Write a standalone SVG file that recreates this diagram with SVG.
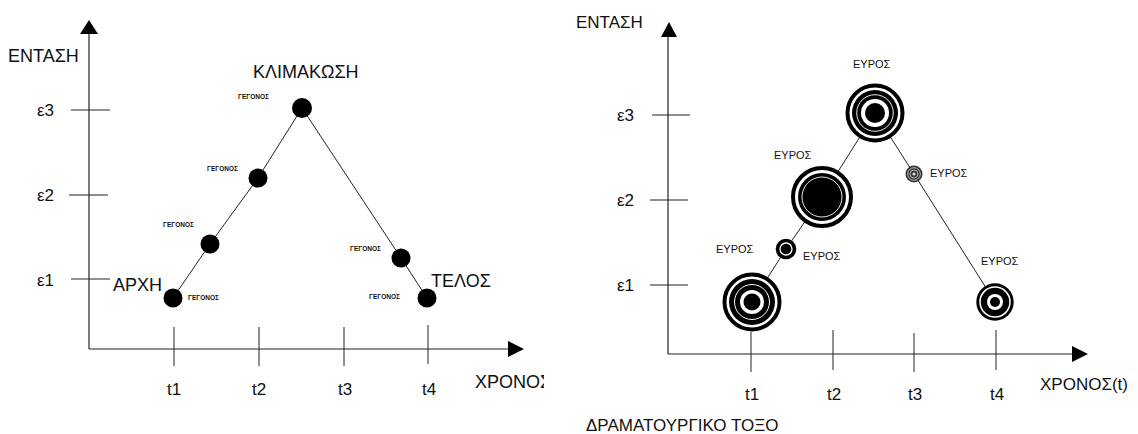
<svg xmlns="http://www.w3.org/2000/svg" width="1138" height="434" viewBox="0 0 1138 434">
  <style>
    .axis { stroke: #222; stroke-width: 1.2; fill: none; }
    .tick { stroke: #222; stroke-width: 1; }
    .link { stroke: #222; stroke-width: 1; fill: none; }
    .lbl { font-family: "Liberation Sans", Arial, sans-serif; fill: #111; }
    .big { font-size: 18px; }
    .mid { font-size: 17px; }
    .small { font-size: 11px; }
    .tiny { font-size: 6.5px; font-weight: bold; }
    .dot { fill: #000; }
  </style>
  <defs>
    <clipPath id="timeClip">
      <rect x="460" y="360" width="84" height="40"/>
    </clipPath>
  </defs>
  <rect width="1138" height="434" fill="#fff"/>

  <!-- Left chart: axes -->
  <g id="left-axes">
    <line class="axis" x1="89" y1="32" x2="89" y2="349"/>
    <polygon points="89,20 80,34 98,34" fill="#000"/>
    <line class="axis" x1="89" y1="349" x2="510" y2="349"/>
    <polygon points="524,349 508,341 508,357" fill="#000"/>
    <line class="tick" x1="71" y1="110" x2="110" y2="110"/>
    <line class="tick" x1="69" y1="195" x2="108" y2="195"/>
    <line class="tick" x1="71" y1="279" x2="110" y2="279"/>
    <line class="tick" x1="174" y1="327" x2="174" y2="366"/>
    <line class="tick" x1="259" y1="327" x2="259" y2="366"/>
    <line class="tick" x1="344" y1="327" x2="344" y2="366"/>
    <line class="tick" x1="428" y1="325" x2="428" y2="364"/>
    <text class="lbl big" x="8" y="62">ΕΝΤΑΣΗ</text>
    <text class="lbl mid" x="37" y="116">ε3</text>
    <text class="lbl mid" x="37" y="201">ε2</text>
    <text class="lbl mid" x="37" y="286">ε1</text>
    <text class="lbl mid" x="174" y="395" text-anchor="middle">t1</text>
    <text class="lbl mid" x="259" y="395" text-anchor="middle">t2</text>
    <text class="lbl mid" x="345" y="395" text-anchor="middle">t3</text>
    <text class="lbl mid" x="429" y="395" text-anchor="middle">t4</text>
    <text class="lbl big" x="475" y="388" clip-path="url(#timeClip)">ΧΡΟΝΟΣ</text>
  </g>

  <!-- Left chart: connectors -->
  <g id="left-links">
    <polyline class="link" points="173,298 210,244 258,178 302,108 401,258 427,298"/>
  </g>

  <!-- Left chart: events -->
  <g id="ev1">
    <circle class="dot" cx="173" cy="298" r="9.5"/>
    <text class="lbl tiny" x="188" y="300">ΓΕΓΟΝΟΣ</text>
    <text class="lbl big" x="113" y="291">ΑΡΧΗ</text>
  </g>
  <g id="ev2">
    <circle class="dot" cx="210" cy="244" r="9.5"/>
    <text class="lbl tiny" x="163" y="227">ΓΕΓΟΝΟΣ</text>
  </g>
  <g id="ev3">
    <circle class="dot" cx="258" cy="178" r="9.5"/>
    <text class="lbl tiny" x="207" y="171">ΓΕΓΟΝΟΣ</text>
  </g>
  <g id="ev4">
    <circle class="dot" cx="302" cy="108" r="10"/>
    <text class="lbl tiny" x="238" y="99">ΓΕΓΟΝΟΣ</text>
    <text class="lbl big" x="253" y="78">ΚΛΙΜΑΚΩΣΗ</text>
  </g>
  <g id="ev5">
    <circle class="dot" cx="401" cy="258" r="9.5"/>
    <text class="lbl tiny" x="350" y="251">ΓΕΓΟΝΟΣ</text>
  </g>
  <g id="ev6">
    <circle class="dot" cx="427" cy="298" r="9.5"/>
    <text class="lbl tiny" x="369" y="299">ΓΕΓΟΝΟΣ</text>
    <text class="lbl big" x="431" y="287">ΤΕΛΟΣ</text>
  </g>

  <!-- Right chart: axes -->
  <g id="right-axes">
    <line class="axis" x1="668" y1="35" x2="668" y2="354"/>
    <polygon points="669,22 661,37 677,37" fill="#000"/>
    <line class="axis" x1="668" y1="354" x2="1074" y2="354"/>
    <polygon points="1088,354 1072,346 1072,362" fill="#000"/>
    <line class="tick" x1="652" y1="115" x2="690" y2="115"/>
    <line class="tick" x1="650" y1="200" x2="688" y2="200"/>
    <line class="tick" x1="650" y1="285" x2="688" y2="285"/>
    <line class="tick" x1="751" y1="332" x2="751" y2="372"/>
    <line class="tick" x1="833" y1="330" x2="833" y2="370"/>
    <line class="tick" x1="914" y1="333" x2="914" y2="372"/>
    <line class="tick" x1="996" y1="330" x2="996" y2="370"/>
    <text class="lbl mid" x="576" y="28">ΕΝΤΑΣΗ</text>
    <text class="lbl mid" x="617" y="121">ε3</text>
    <text class="lbl mid" x="617" y="206">ε2</text>
    <text class="lbl mid" x="617" y="291">ε1</text>
    <text class="lbl mid" x="752" y="400" text-anchor="middle">t1</text>
    <text class="lbl mid" x="834" y="400" text-anchor="middle">t2</text>
    <text class="lbl mid" x="915" y="400" text-anchor="middle">t3</text>
    <text class="lbl mid" x="997" y="400" text-anchor="middle">t4</text>
    <text class="lbl mid" x="1040" y="390">ΧΡΟΝΟΣ(t)</text>
    <text class="lbl mid" x="586" y="431">ΔΡΑΜΑΤΟΥΡΓΙΚΟ ΤΟΞΟ</text>
  </g>

  <!-- Right chart: connectors -->
  <g id="right-links">
    <polyline class="link" points="752,302 786,249 822,197 875,113 914,174 995,302"/>
  </g>

  <!-- Right chart: amplitude nodes -->
  <g id="amp1">
    <circle cx="752" cy="302" r="27.5" fill="#fff" stroke="#000" stroke-width="4"/>
    <circle cx="752" cy="302" r="23" fill="#000"/>
    <circle cx="752" cy="302" r="17.5" fill="none" stroke="#fff" stroke-width="1"/>
    <circle cx="752" cy="302" r="12" fill="#fff"/>
    <circle cx="752" cy="302" r="8.5" fill="#000"/>
  </g>
  <g id="amp2">
    <circle cx="786" cy="249" r="10.3" fill="#000"/>
    <circle cx="786" cy="249" r="6" fill="none" stroke="#fff" stroke-width="1.3"/>
    <text class="lbl small" x="716" y="253">ΕΥΡΟΣ</text>
    <text class="lbl small" x="803" y="260">ΕΥΡΟΣ</text>
  </g>
  <g id="amp3">
    <circle cx="822" cy="197" r="29" fill="#fff" stroke="#000" stroke-width="4"/>
    <circle cx="822" cy="197" r="24" fill="#000"/>
    <circle cx="822" cy="197" r="20" fill="none" stroke="#fff" stroke-width="0.9"/>
    <text class="lbl small" x="774" y="159">ΕΥΡΟΣ</text>
  </g>
  <g id="amp4">
    <circle cx="875" cy="113" r="27.5" fill="#fff" stroke="#000" stroke-width="4"/>
    <circle cx="875" cy="113" r="23" fill="#000"/>
    <circle cx="875" cy="113" r="18.3" fill="none" stroke="#fff" stroke-width="0.9"/>
    <circle cx="875" cy="113" r="14" fill="#fff"/>
    <circle cx="875" cy="113" r="10" fill="#000"/>
    <text class="lbl small" x="853" y="68">ΕΥΡΟΣ</text>
  </g>
  <g id="amp5">
    <circle cx="914" cy="174" r="8.5" fill="#333"/>
    <circle cx="914" cy="174" r="6.3" fill="none" stroke="#ddd" stroke-width="0.8"/>
    <circle cx="914" cy="174" r="4" fill="none" stroke="#ddd" stroke-width="0.8"/>
    <circle cx="914" cy="174" r="1.6" fill="#ddd"/>
    <text class="lbl small" x="930" y="177">ΕΥΡΟΣ</text>
  </g>
  <g id="amp6">
    <circle cx="995" cy="302" r="18.7" fill="#000"/>
    <circle cx="995" cy="302" r="15" fill="none" stroke="#fff" stroke-width="1.5"/>
    <circle cx="995" cy="302" r="8" fill="#fff"/>
    <circle cx="995" cy="302" r="5" fill="#000"/>
    <text class="lbl small" x="981" y="265">ΕΥΡΟΣ</text>
  </g>
</svg>
